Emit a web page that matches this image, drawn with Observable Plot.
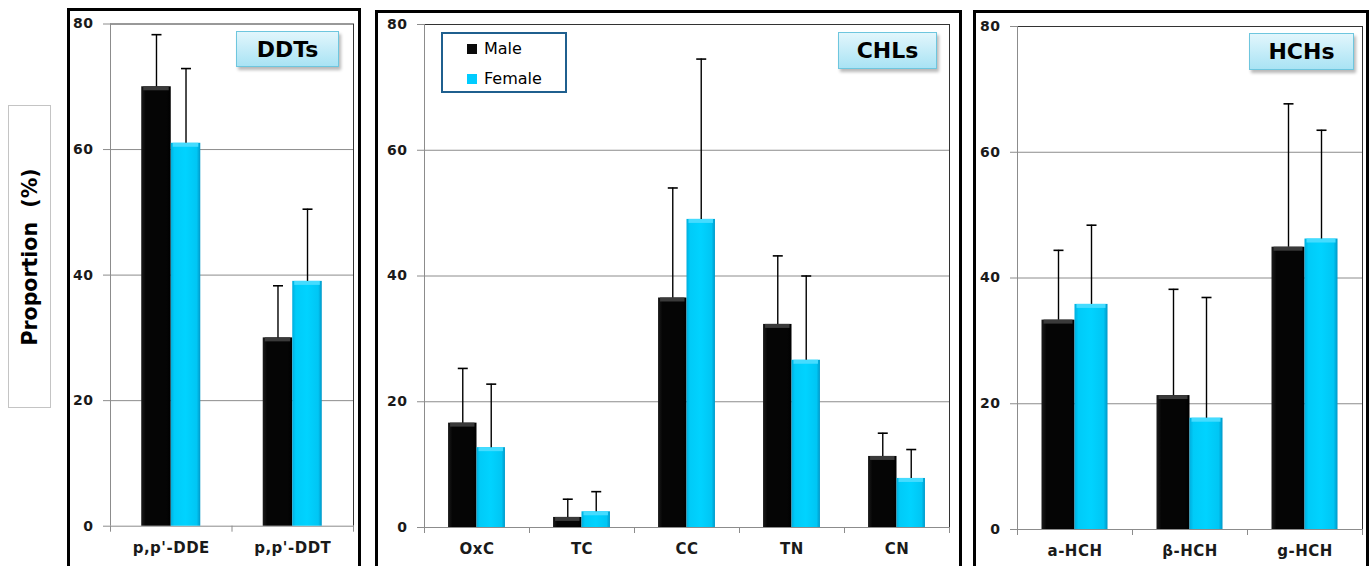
<!DOCTYPE html>
<html><head><meta charset="utf-8">
<script src="https://cdn.jsdelivr.net/npm/d3@7"></script>
<script src="https://cdn.jsdelivr.net/npm/@observablehq/plot@0.6"></script>
<style>
html,body{margin:0;padding:0;background:#fff}
#root{position:relative;width:1371px;height:566px;overflow:hidden;font-family:"DejaVu Sans",sans-serif;background:#fff}
.panel{position:absolute;border:3px solid #000;box-sizing:border-box;pointer-events:none}
.plotwrap{position:absolute}
.plotwrap svg text{letter-spacing:0.5px}
.title{position:absolute;border:1.5px solid #6ec6de;background:linear-gradient(#e2f6fc,#a9e3f4);box-shadow:2px 3px 3px rgba(0,0,0,0.28);font-weight:bold;font-size:22px;display:flex;align-items:center;justify-content:center;box-sizing:border-box;color:#000}
.ylab{position:absolute;left:8px;top:105px;width:43px;height:303px;border:1.5px solid #c4c4c4;box-sizing:border-box}
.ylab span{position:absolute;left:50%;top:50%;transform:translate(-50%,-50%) rotate(-90deg);font-weight:bold;font-size:20.5px;white-space:pre;color:#000}
.legend{position:absolute;left:441px;top:32px;width:126px;height:61px;border:2px solid #1f5f8e;box-sizing:border-box;background:#fff}
.legend .item{position:absolute;left:24px;display:flex;align-items:center;font-size:16px;color:#000}
.legend .sw{width:10px;height:10px;margin-right:7px}
</style></head><body>
<div id="root"></div>
<script>
// ---- data ----
const series = ["Male", "Female"];
const seriesColors = ["#0a0a0a", "#00ccff"];

const ddtCats = ["p,p'-DDE", "p,p'-DDT"];
const ddtMale = [70.0, 30.0];
const ddtMaleSD = [8.3, 8.3];
const ddtFemale = [61.0, 39.0];
const ddtFemaleSD = [11.9, 11.5];

const chlCats = ["OxC", "TC", "CC", "TN", "CN"];
const chlMale = [16.6, 1.6, 36.5, 32.3, 11.3];
const chlMaleSD = [8.7, 2.9, 17.5, 10.9, 3.7];
const chlFemale = [12.7, 2.5, 49.0, 26.6, 7.8];
const chlFemaleSD = [10.1, 3.2, 25.5, 13.4, 4.6];

const hchCats = ["a-HCH", "β-HCH", "g-HCH"];
const hchMale = [33.3, 21.3, 44.9];
const hchMaleSD = [11.1, 16.9, 22.8];
const hchFemale = [35.8, 17.7, 46.2];
const hchFemaleSD = [12.6, 19.2, 17.3];

const yTicks = [0, 20, 40, 60, 80];
const yLabel = "Proportion  (%)";
const panelTitles = ["DDTs", "CHLs", "HCHs"];

// ---- gradients ----
const root = document.getElementById("root");
const NS = "http://www.w3.org/2000/svg";
const defsSvg = document.createElementNS(NS, "svg");
defsSvg.setAttribute("width", 0); defsSvg.setAttribute("height", 0);
defsSvg.style.position = "absolute";
defsSvg.innerHTML = `<defs>
<linearGradient id="gMale" x1="0" x2="1" y1="0" y2="0">
<stop offset="0" stop-color="#1c1c1c"/><stop offset="0.15" stop-color="#050505"/><stop offset="0.85" stop-color="#050505"/><stop offset="1" stop-color="#000"/></linearGradient>
<linearGradient id="gFemale" x1="0" x2="1" y1="0" y2="0">
<stop offset="0" stop-color="#00aede"/><stop offset="0.12" stop-color="#00cbf8"/><stop offset="0.5" stop-color="#00d3ff"/><stop offset="0.88" stop-color="#00c6f4"/><stop offset="1" stop-color="#0098c8"/></linearGradient>
</defs>`;
root.appendChild(defsSvg);
const barFills = ["url(#gMale)", "url(#gFemale)"];
const bevelFills = ["#3a3a3a", "#45dcff"];

const capSymbol = {draw(ctx, size) { const r = Math.sqrt(size / Math.PI); ctx.moveTo(-r, 0); ctx.lineTo(r, 0); }};

function makePanel(cfg) {
  const {cats, male, maleSD, female, femaleSD, box, plot, half, title, titleBox} = cfg;
  const rows = [];
  cats.forEach((c, i) => {
    rows.push({i, cat: c, s: 0, side: -1, value: male[i], sd: maleSD[i]});
    rows.push({i, cat: c, s: 1, side: 1, value: female[i], sd: femaleSD[i]});
  });
  const n = cats.length;
  const x1 = d => d.i + 0.5 + (d.side < 0 ? -half : 0);
  const x2 = d => d.i + 0.5 + (d.side < 0 ? 0 : half);
  const xc = d => d.i + 0.5 + d.side * half / 2;
  const top = d => d.value + d.sd;
  const height = 566 - box.top;
  const grey = "#8c8c8c";
  const marks = [
    Plot.gridY([20, 40, 60], {stroke: grey, strokeOpacity: 1}),
    Plot.ruleY([0], {stroke: grey}),
    Plot.ruleY([80], {stroke: "#333"}),
    Plot.ruleX([n], {stroke: "#333"}),
    Plot.ruleX([0], {stroke: grey}),
    Plot.axisY(yTicks, {tickSize: 7, tickPadding: 10, stroke: grey, fill: "#1a1a1a", fontWeight: "bold", fontSize: 14, label: null}),
    Plot.axisX(d3.range(n + 1), {tickSize: 6, tickFormat: () => "", stroke: grey, label: null}),
    Plot.axisX(d3.range(n).map(i => i + 0.5), {tickSize: 0, tickPadding: 16, tickFormat: d => cats[Math.floor(d)], fontWeight: "bold", fontSize: 15, fill: "#1a1a1a", label: null})
  ];
  [0, 1].forEach(s => {
    const data = rows.filter(d => d.s === s);
    marks.push(Plot.rect(data, {x1, x2, y1: 0, y2: "value", fill: barFills[s]}));
    marks.push(Plot.rect(data, {x1, x2, y1: "value", y2: "value", insetBottom: -4, insetLeft: 2, insetRight: 2, fill: bevelFills[s]}));
  });
  marks.push(Plot.ruleX(rows, {x: xc, y1: "value", y2: top, stroke: "#000", strokeWidth: 1.4}));
  marks.push(Plot.dot(rows, {x: xc, y: top, symbol: capSymbol, r: 5, fill: "none", stroke: "#000", strokeWidth: 1.6}));

  const chart = Plot.plot({
    width: box.width, height,
    marginLeft: plot.l - box.left, marginRight: box.left + box.width - plot.r,
    marginTop: plot.t - box.top, marginBottom: box.top + height - plot.b,
    x: {domain: [0, n], axis: null},
    y: {domain: [0, 80], axis: null},
    style: {background: "transparent", overflow: "visible", fontFamily: "DejaVu Sans"},
    marks
  });
  const wrap = document.createElement("div");
  wrap.className = "plotwrap";
  wrap.style.left = box.left + "px"; wrap.style.top = box.top + "px";
  wrap.appendChild(chart);
  root.appendChild(wrap);
  const border = document.createElement("div");
  border.className = "panel";
  border.style.left = box.left + "px"; border.style.top = box.top + "px";
  border.style.width = box.width + "px"; border.style.height = "620px";
  root.appendChild(border);
  const t = document.createElement("div");
  t.className = "title";
  t.textContent = title;
  Object.assign(t.style, {left: titleBox[0] + "px", top: titleBox[1] + "px", width: titleBox[2] + "px", height: titleBox[3] + "px"});
  root.appendChild(t);
}

makePanel({cats: ddtCats, male: ddtMale, maleSD: ddtMaleSD, female: ddtFemale, femaleSD: ddtFemaleSD,
  box: {left: 67, top: 8, width: 294}, plot: {l: 110, r: 353, t: 23.5, b: 525.7}, half: 0.243,
  title: panelTitles[0], titleBox: [236, 31, 103, 36]});
makePanel({cats: chlCats, male: chlMale, maleSD: chlMaleSD, female: chlFemale, femaleSD: chlFemaleSD,
  box: {left: 375, top: 10, width: 587}, plot: {l: 424, r: 949, t: 24, b: 527}, half: 0.271,
  title: panelTitles[1], titleBox: [838, 32, 99, 37]});
makePanel({cats: hchCats, male: hchMale, maleSD: hchMaleSD, female: hchFemale, femaleSD: hchFemaleSD,
  box: {left: 973, top: 10, width: 396}, plot: {l: 1017, r: 1362, t: 26, b: 529}, half: 0.287,
  title: panelTitles[2], titleBox: [1249, 33, 105, 37]});

// y label
const yl = document.createElement("div");
yl.className = "ylab";
yl.innerHTML = `<span></span>`;
yl.firstChild.textContent = yLabel;
root.appendChild(yl);

// legend
const lg = document.createElement("div");
lg.className = "legend";
series.forEach((s, k) => {
  const it = document.createElement("div");
  it.className = "item";
  it.style.top = (k === 0 ? 5 : 35) + "px";
  const sw = document.createElement("div");
  sw.className = "sw"; sw.style.background = seriesColors[k];
  it.appendChild(sw);
  const tx = document.createElement("span"); tx.textContent = s;
  it.appendChild(tx);
  lg.appendChild(it);
});
root.appendChild(lg);
</script>
</body></html>
